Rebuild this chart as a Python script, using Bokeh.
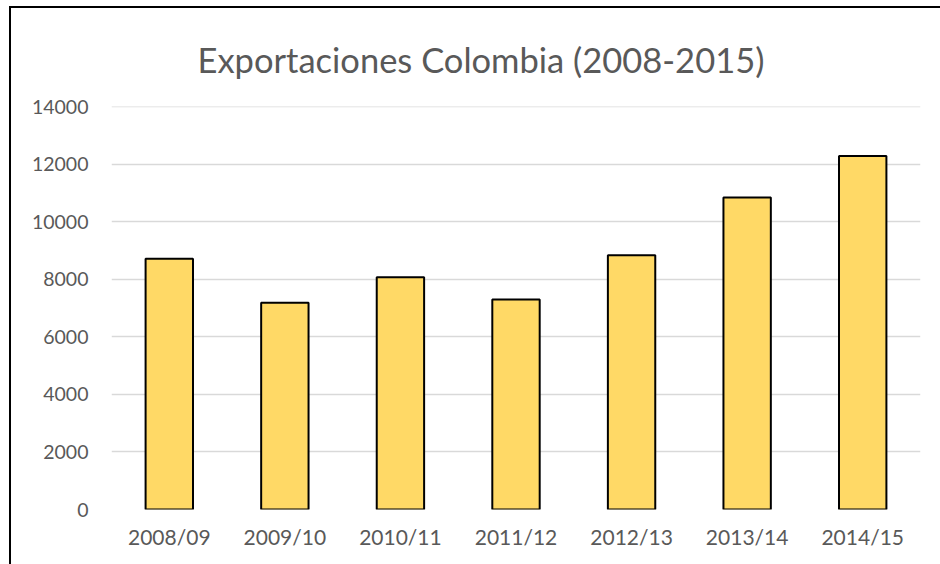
from bokeh.plotting import figure
from bokeh.models import Range1d, FixedTicker, ColumnDataSource
from bokeh.embed import file_html
from bokeh.resources import INLINE

years = ["2008/09", "2009/10", "2010/11", "2011/12", "2012/13", "2013/14", "2014/15"]
exports = [8720, 7190, 8070, 7300, 8840, 10850, 12290]
y_ticks = [0, 2000, 4000, 6000, 8000, 10000, 12000, 14000]
title_text = "Exportaciones  Colombia (2008-2015)"

src = ColumnDataSource(dict(x=years, top=exports))

p = figure(x_range=years, y_range=Range1d(0, 14010), width=931, height=558,
           output_backend="svg", toolbar_location=None,
           min_border_left=100, min_border_right=22, min_border_top=98, min_border_bottom=57,
           styles={"border-left": "2px solid #000", "border-top": "2px solid #000",
                   "box-sizing": "border-box", "margin-left": "9px", "margin-top": "6px"})

p.title.text = title_text
p.title.align = "left"
p.title.text_font = "Lato"
p.title.text_font_size = "34.5px"
p.title.text_font_style = "normal"
p.title.text_color = "#595959"
p.title.offset = 86
p.title.standoff = 53

p.vbar(x="x", top="top", width=0.41, source=src, fill_color="#FFD966",
       line_color="#000000", line_width=2)

p.outline_line_color = None
p.xgrid.grid_line_color = None
p.ygrid.grid_line_color = "#d9d9d9"
p.ygrid.grid_line_width = 1.5
p.yaxis.ticker = FixedTicker(ticks=y_ticks)

for ax in (p.xaxis[0], p.yaxis[0]):
    ax.axis_line_color = None
    ax.major_tick_line_color = None
    ax.minor_tick_line_color = None
    ax.major_label_text_font = "Lato"
    ax.major_label_text_color = "#595959"

p.xaxis.major_label_text_font_size = "21px"
p.yaxis.major_label_text_font_size = "19.5px"
p.yaxis.major_label_standoff = 17
p.xaxis.major_label_standoff = 8
p.x_range.range_padding = 0

open("out.html", "w").write(file_html(p, INLINE))
